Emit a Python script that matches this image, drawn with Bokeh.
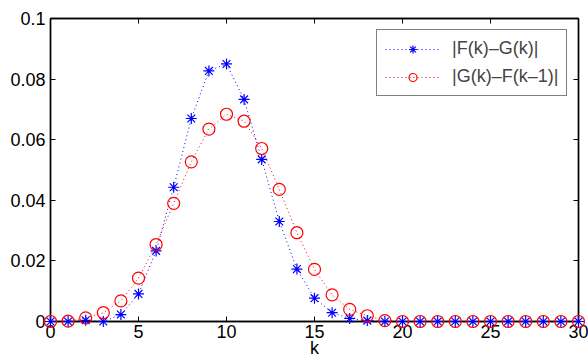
from bokeh.plotting import figure
from bokeh.models import Range1d, LinearAxis, FixedTicker, Legend, LegendItem
from bokeh.embed import file_html
from bokeh.resources import INLINE

k = list(range(0, 31))
fg = [0, 0, 0.0004, 0, 0.0023, 0.0091, 0.0233, 0.0443, 0.067, 0.0827, 0.085,
      0.0733, 0.0535, 0.033, 0.0173, 0.0077, 0.0029, 0.001, 0.0003] + [0] * 12
gf = [0, 0.0001, 0.0012, 0.0029, 0.0068, 0.0143, 0.0254, 0.039, 0.0527, 0.0635, 0.0684,
      0.0661, 0.0571, 0.0436, 0.0293, 0.0172, 0.0088, 0.004, 0.0019, 0.0003] + [0] * 11
x_ticks = [0, 5, 10, 15, 20, 25, 30]
y_ticks = [0, 0.02, 0.04, 0.06, 0.08, 0.1]
y_labels = {0: "0", 0.02: "0.02", 0.04: "0.04", 0.06: "0.06", 0.08: "0.08", 0.1: "0.1"}
names = ["|F(k)–G(k)|", "|G(k)–F(k–1)|"]

FONT = "Liberation Sans"
FS = "18px"

p = figure(width=588, height=363, output_backend="svg", toolbar_location=None,
           x_range=Range1d(0, 30), y_range=Range1d(0, 0.1),
           min_border_left=50, min_border_right=10, min_border_top=18, min_border_bottom=42)
p.xgrid.visible = False
p.ygrid.visible = False
p.outline_line_color = "black"
p.outline_line_width = 1.4

def style(ax, labels=True):
    ax.axis_line_color = "black"
    ax.axis_line_width = 1.4
    ax.major_tick_in = 5
    ax.major_tick_out = 0
    ax.minor_tick_line_color = None
    ax.major_tick_line_color = "black"
    ax.major_label_text_font = FONT
    ax.major_label_text_font_size = FS
    ax.major_label_text_color = "black"
    if not labels:
        ax.major_label_text_font_size = "0px"
        ax.major_label_text_color = None

xa = p.xaxis[0]
xa.ticker = FixedTicker(ticks=x_ticks)
xa.axis_label = "k"
xa.axis_label_text_font = FONT
xa.axis_label_text_font_size = FS
xa.axis_label_text_font_style = "normal"
xa.axis_label_text_color = "black"
xa.axis_label_standoff = -3
xa.major_label_standoff = 3
style(xa)

ya = p.yaxis[0]
ya.ticker = FixedTicker(ticks=y_ticks)
ya.major_label_overrides = y_labels
ya.major_label_standoff = 5
style(ya)

top = LinearAxis(ticker=FixedTicker(ticks=x_ticks))
style(top, labels=False)
p.add_layout(top, "above")
right = LinearAxis(ticker=FixedTicker(ticks=y_ticks))
style(right, labels=False)
p.add_layout(right, "right")

l1 = p.line(k, fg, line_color="blue", line_dash="1 3", line_width=1)
m1 = p.scatter(k, fg, marker="asterisk", size=11, line_color="blue", line_width=1.2, level="overlay")
l2 = p.line(k, gf, line_color="red", line_dash="1 3", line_width=1)
m2 = p.scatter(k, gf, marker="circle", size=12, line_color="red", fill_color=None, line_width=1.2, level="overlay")

legend = Legend(items=[LegendItem(label=names[0], renderers=[l1, m1]),
                       LegendItem(label=names[1], renderers=[l2, m2])],
                location=(326, 225))
legend.label_text_font = FONT
legend.label_text_font_size = FS
legend.glyph_width = 55
legend.glyph_height = 20
legend.border_line_color = "black"
legend.border_line_width = 1
legend.margin = 0
legend.padding = 8
legend.spacing = 7
legend.label_standoff = 12
legend.background_fill_alpha = 1
p.add_layout(legend)

open("out.html", "w").write(file_html(p, INLINE))
